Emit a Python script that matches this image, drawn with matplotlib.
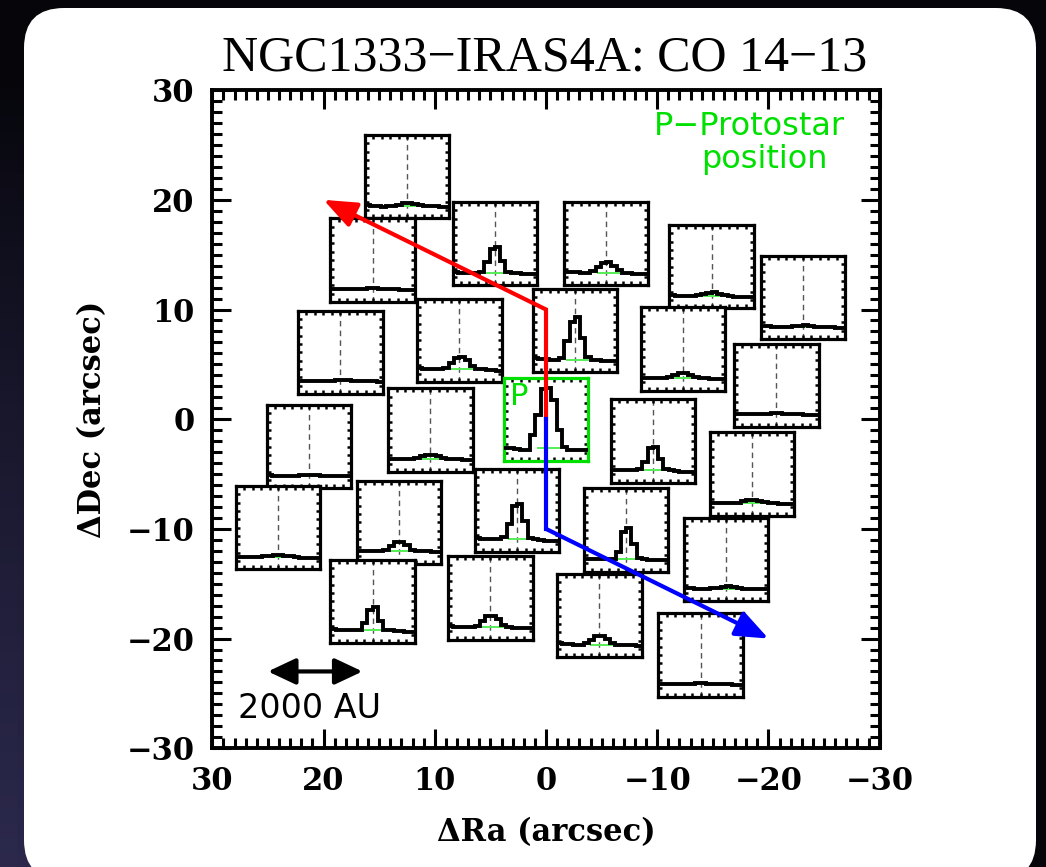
import numpy as np
import matplotlib
matplotlib.use('Agg')
import matplotlib.pyplot as plt
from matplotlib.patches import FancyBboxPatch
from matplotlib.ticker import MultipleLocator

# PACS spaxel offsets (arcsec) from the protostar
ra_off = [12.5, 15.6, 4.6, -5.4, -14.9, -23.1, -2.6, 18.5, 7.8, -12.3, -20.7, 0.0, 10.4,
          -9.6, 21.3, -18.5, 2.6, 24.1, 13.2, -7.2, -16.2, 15.6, 5.0, -4.8, -13.9]
dec_off = [22.1, 14.5, 16.0, 16.0, 13.9, 11.1, 8.1, 6.1, 7.2, 6.4, 3.1, 0.0, -1.0,
           -2.0, -2.5, -5.0, -8.3, -9.9, -9.4, -10.1, -12.8, -16.6, -16.3, -17.9, -21.5]
protostar = 11

# CO 14-13 line profiles per spaxel (normalised to the peak at P)
vel_edges = np.arange(-8, 9)
spectra = [
    [0.01, 0.0, 0.0, -0.01, 0.0, 0.0, 0.02, 0.05, 0.05, 0.03, 0.01, 0.0, 0.0, 0.0, -0.01, -0.01],
    [0.01, 0.01, 0.0, 0.0, 0.0, 0.0, 0.01, 0.02, 0.02, 0.01, 0.0, 0.0, 0.0, -0.01, -0.01, -0.01],
    [0.01, 0.0, 0.0, 0.0, 0.0, 0.01, 0.18, 0.40, 0.42, 0.20, 0.02, 0.0, 0.0, -0.01, -0.01, -0.01],
    [0.02, 0.01, 0.01, 0.0, 0.0, 0.03, 0.10, 0.17, 0.18, 0.12, 0.04, 0.0, 0.0, -0.01, -0.01, -0.02],
    [0.01, 0.0, 0.0, 0.0, 0.0, 0.01, 0.03, 0.05, 0.06, 0.04, 0.01, 0.0, -0.01, -0.01, -0.02, -0.02],
    [0.01, 0.01, 0.0, 0.0, 0.0, 0.0, 0.01, 0.01, 0.02, 0.01, 0.0, 0.0, -0.01, -0.01, -0.02, -0.03],
    [0.02, 0.01, 0.01, 0.0, 0.0, 0.02, 0.30, 0.62, 0.70, 0.36, 0.04, 0.0, -0.01, -0.02, -0.03, -0.03],
    [0.0, 0.0, 0.0, 0.0, 0.0, 0.0, 0.01, 0.02, 0.03, 0.02, 0.01, 0.0, 0.0, 0.0, 0.0, -0.01],
    [0.02, 0.01, 0.01, 0.0, 0.0, 0.03, 0.10, 0.18, 0.20, 0.16, 0.06, 0.01, 0.0, -0.01, -0.01, -0.02],
    [0.01, 0.0, 0.0, 0.0, 0.0, 0.02, 0.05, 0.08, 0.08, 0.06, 0.02, 0.0, 0.0, -0.01, -0.01, -0.01],
    [0.01, 0.0, 0.0, 0.0, 0.0, 0.0, 0.01, 0.02, 0.02, 0.01, 0.0, 0.0, 0.0, -0.01, -0.01, -0.01],
    [0.01, 0.0, -0.01, -0.02, -0.02, 0.22, 0.55, 0.97, 1.0, 0.80, 0.30, 0.02, -0.02, -0.03, -0.02, -0.03],
    [0.0, 0.0, 0.0, 0.0, 0.01, 0.03, 0.05, 0.07, 0.07, 0.06, 0.03, 0.01, 0.0, 0.0, -0.01, -0.01],
    [0.01, 0.0, 0.0, 0.0, 0.0, 0.02, 0.14, 0.36, 0.39, 0.18, 0.02, 0.0, -0.01, -0.02, -0.02, -0.02],
    [0.01, 0.0, 0.0, 0.0, 0.0, 0.0, 0.01, 0.02, 0.02, 0.01, 0.0, 0.0, 0.0, 0.0, -0.01, -0.01],
    [0.01, 0.01, 0.0, 0.0, 0.0, 0.01, 0.03, 0.05, 0.06, 0.04, 0.02, 0.0, 0.0, -0.01, -0.01, -0.02],
    [0.02, 0.01, 0.01, 0.0, 0.0, 0.04, 0.25, 0.55, 0.58, 0.30, 0.03, 0.0, -0.01, -0.02, -0.02, -0.02],
    [0.0, 0.0, 0.0, 0.0, 0.0, 0.01, 0.02, 0.04, 0.04, 0.02, 0.01, 0.0, -0.01, -0.01, -0.01, -0.01],
    [0.01, 0.01, 0.0, 0.0, 0.0, 0.03, 0.09, 0.16, 0.16, 0.10, 0.02, 0.0, 0.0, 0.0, -0.01, -0.01],
    [0.01, 0.01, 0.0, 0.0, 0.0, 0.01, 0.12, 0.45, 0.51, 0.25, 0.02, 0.0, -0.01, -0.01, -0.02, -0.02],
    [0.01, 0.01, 0.0, 0.0, 0.0, 0.01, 0.02, 0.03, 0.04, 0.03, 0.01, 0.0, 0.0, -0.01, -0.01, -0.01],
    [0.02, 0.01, 0.01, 0.0, 0.0, 0.0, 0.12, 0.34, 0.38, 0.15, 0.01, 0.0, -0.01, -0.01, -0.02, -0.02],
    [0.02, 0.01, 0.01, 0.0, 0.0, 0.02, 0.10, 0.19, 0.19, 0.14, 0.03, 0.0, -0.01, -0.01, -0.02, -0.02],
    [0.02, 0.01, 0.01, 0.0, 0.0, 0.02, 0.08, 0.14, 0.15, 0.10, 0.03, 0.0, 0.0, -0.01, -0.01, -0.02],
    [0.01, 0.0, 0.0, 0.0, 0.0, 0.0, 0.01, 0.02, 0.02, 0.01, 0.0, 0.0, 0.0, 0.0, -0.01, -0.01],
]

# outflow directions
red_ra, red_dec = [0, 0, 20], [0, 10, 20]
blue_ra, blue_dec = [0, 0, -20], [0, -10, -20]
scale_ra, scale_dec = [25, 16.5], [-23, -23]

fig = plt.figure(figsize=(10.46, 8.67), dpi=100)

# dark backdrop + white rounded panel
bg = fig.add_axes([0, 0, 1, 1])
bg.set_xlim(0, 1046)
bg.set_ylim(867, 0)
bg.axis('off')
yy, xx = np.mgrid[0:1:60j, 0:1:60j]
shade = np.clip(yy * 1.1 - 0.1, 0, 1) ** 0.8 * (1 - xx) ** 2
grad = np.dstack([0.02 + 0.15 * shade, 0.02 + 0.14 * shade, 0.04 + 0.26 * shade])
bg.imshow(grad, extent=[0, 1046, 867, 0], aspect='auto')
bg.add_patch(FancyBboxPatch((24, 8), 1012, 872, boxstyle='round,pad=0,rounding_size=40',
                            fc='white', ec='none'))

ax = fig.add_axes([0.203, 0.137, 0.638, 0.759])
ax.set_xlim(30, -30)
ax.set_ylim(-30, 30)
ax.xaxis.set_major_locator(MultipleLocator(10))
ax.xaxis.set_minor_locator(MultipleLocator(1))
ax.yaxis.set_major_locator(MultipleLocator(10))
ax.yaxis.set_minor_locator(MultipleLocator(1))
ax.tick_params(which='both', direction='in', top=True, right=True, width=2.2)
ax.tick_params(which='major', length=14, labelsize=22, pad=13)
ax.tick_params(which='minor', length=7)
for lab in ax.get_xticklabels() + ax.get_yticklabels():
    lab.set_fontfamily('DejaVu Serif')
    lab.set_fontweight('bold')
for s in ax.spines.values():
    s.set_linewidth(2.8)

ax.set_xlabel('\u0394Ra (arcsec)', fontsize=22, fontweight='bold', family='DejaVu Serif')
ax.set_ylabel('\u0394Dec (arcsec)', fontsize=22, fontweight='bold', family='DejaVu Serif')
ax.xaxis.set_label_coords(0.5, -0.104)
ax.yaxis.set_label_coords(-0.157, 0.5)

fig.text(0.521, 0.919, 'NGC1333\u2212IRAS4A: CO 14\u221213', ha='center', va='baseline',
         fontsize=36, family='Liberation Serif')

half = 3.8
for k, (ra, dec, spec) in enumerate(zip(ra_off, dec_off, spectra)):
    # place each spaxel box through the main axes' data->axes mapping
    x0, y0 = ax.transLimits.transform((ra + half, dec - half))
    x1, y1 = ax.transLimits.transform((ra - half, dec + half))
    ins = ax.inset_axes([x0, y0, x1 - x0, y1 - y0], transform=ax.transAxes)
    ins.axvline(0, color='#555555', lw=1, ls=(0, (4, 3)), zorder=1)
    ins.plot([-1.5, 2.5], [0, 0], color='#55ee55', lw=1.4, zorder=2)
    ins.stairs(spec, vel_edges, baseline=None, color='k', lw=2.8, zorder=3)
    ins.set_xlim(-8, 8)
    ins.set_ylim(-0.205, 1.164)
    ins.set_xticks(np.linspace(-8, 8, 11)[1:-1])
    ins.set_yticks(np.linspace(-0.205, 1.164, 11)[1:-1])
    ins.tick_params(direction='in', length=3, width=1.8, top=True, right=True,
                    labelbottom=False, labelleft=False)
    for s in ins.spines.values():
        s.set_linewidth(2.3)
        if k == protostar:
            s.set_color('#00e000')
    if k == protostar:
        ins.text(0.07, 0.95, 'P', transform=ins.transAxes, ha='left', va='top',
                 color='#00e000', fontsize=22, family='DejaVu Sans')

# outflow arrows
head = '-|>,head_length=1.0,head_width=0.4'
ax.plot(red_ra[:2], red_dec[:2], color='#ff0000', lw=3, zorder=6)
ax.annotate('', xy=(red_ra[2], red_dec[2]), xytext=(red_ra[1], red_dec[1]), zorder=6,
            arrowprops=dict(arrowstyle=head, color='#ff0000',
                            lw=3, shrinkA=0, shrinkB=0, mutation_scale=20))
ax.plot(blue_ra[:2], blue_dec[:2], color='#0000ff', lw=3, zorder=6)
ax.annotate('', xy=(blue_ra[2], blue_dec[2]), xytext=(blue_ra[1], blue_dec[1]), zorder=6,
            arrowprops=dict(arrowstyle=head, color='#0000ff',
                            lw=3, shrinkA=0, shrinkB=0, mutation_scale=20))

# 2000 AU scale bar
ax.annotate('', xy=(scale_ra[1], scale_dec[1]), xytext=(scale_ra[0], scale_dec[0]), zorder=6,
            arrowprops=dict(arrowstyle='<|-|>,head_length=0.85,head_width=0.4', color='k',
                            lw=3, shrinkA=0, shrinkB=0, mutation_scale=20))
ax.text(21.3, -27.2, '2000 AU', ha='center', va='baseline', fontsize=24, family='DejaVu Sans')

ax.text(-18.3, 25.9, 'P\u2212Protostar', ha='center', va='baseline', fontsize=23,
        family='DejaVu Sans', color='#00e000')
ax.text(-19.6, 22.9, 'position', ha='center', va='baseline', fontsize=23,
        family='DejaVu Sans', color='#00e000')

fig.savefig('out.png', dpi=100)
